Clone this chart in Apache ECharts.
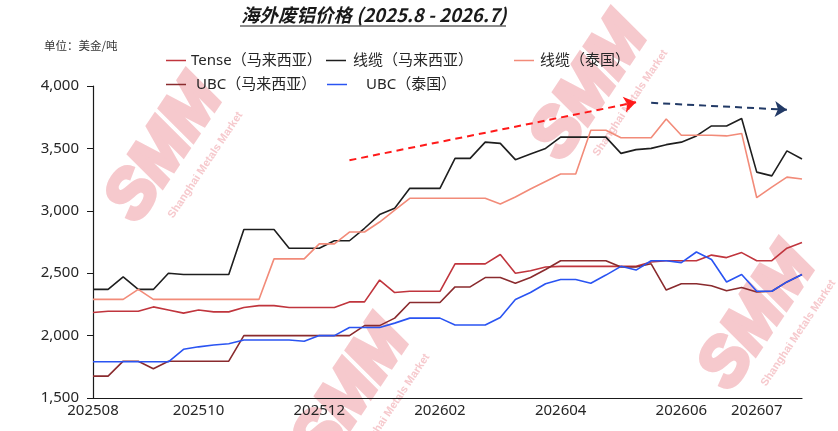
<!DOCTYPE html>
<html lang="zh">
<head>
<meta charset="UTF-8">
<title>海外废铝价格</title>
<script src="https://cdn.jsdelivr.net/npm/echarts@6/dist/echarts.min.js"></script>
<style>
    html, body { margin: 0; padding: 0; background: #fff; }
    #main { width: 838px; height: 431px; }
</style>
</head>
<body>
<div id="main"></div>
<script>
// 周度数据 2025.8 - 2026.7，单位：美金/吨
var tickIdx = [0, 7, 15, 23, 31, 39, 44];
var tickText = ['202508', '202510', '202512', '202602', '202604', '202606', '202607'];

var tenseMY = [2185, 2195, 2195, 2195, 2230, 2205, 2180, 2205, 2190, 2190,
    2225, 2240, 2240, 2225, 2225, 2225, 2225, 2270, 2270, 2445,
    2345, 2355, 2355, 2355, 2575, 2575, 2575, 2650, 2500, 2520,
    2550, 2555, 2555, 2555, 2555, 2555, 2555, 2590, 2600, 2600,
    2600, 2645, 2625, 2665, 2600, 2600, 2700, 2745];
var cableMY = [2370, 2370, 2470, 2370, 2370, 2500, 2490, 2490, 2490, 2490,
    2850, 2850, 2850, 2700, 2700, 2700, 2760, 2760, 2860, 2970,
    3020, 3180, 3180, 3180, 3420, 3420, 3550, 3540, 3410, 3455,
    3500, 3590, 3590, 3590, 3590, 3460, 3490, 3500, 3530, 3550,
    3600, 3680, 3680, 3740, 3310, 3280, 3480, 3415];
var cableTH = [2290, 2290, 2290, 2370, 2290, 2290, 2290, 2290, 2290, 2290,
    2290, 2290, 2615, 2615, 2615, 2735, 2735, 2830, 2830, 2910,
    3005, 3100, 3100, 3100, 3100, 3100, 3100, 3055, 3110, 3175,
    3235, 3295, 3295, 3645, 3645, 3585, 3585, 3585, 3735, 3605,
    3605, 3605, 3600, 3620, 3105, 3190, 3270, 3255];
var ubcMY = [1675, 1675, 1795, 1795, 1735, 1795, 1795, 1795, 1795, 1795,
    2000, 2000, 2000, 2000, 2000, 2000, 2000, 2000, 2080, 2080,
    2140, 2265, 2265, 2265, 2390, 2390, 2465, 2465, 2420, 2465,
    2530, 2600, 2600, 2600, 2600, 2550, 2550, 2575, 2365, 2415,
    2415, 2400, 2360, 2385, 2350, 2355, 2430, 2490];
var ubcTH = [1790, 1790, 1790, 1790, 1790, 1790, 1890, 1910, 1925, 1935,
    1965, 1965, 1965, 1965, 1955, 2000, 2000, 2065, 2065, 2065,
    2100, 2140, 2140, 2140, 2085, 2085, 2085, 2145, 2290, 2345,
    2415, 2450, 2450, 2420, 2485, 2555, 2525, 2600, 2600, 2585,
    2670, 2610, 2430, 2490, 2355, 2355, 2430, 2490];

// 趋势箭头 [起点周, 起点值, 终点周, 终点值]
var upArrow = [17, 3405, 36, 3870];
var downArrow = [37, 3865, 46, 3810];

var weeks = [];
for (var i = 0; i < tenseMY.length; i++) {
    weeks.push('w' + i);
}

var fontCN = '"Noto Sans", "Noto Sans CJK SC", sans-serif';

// SMM 水印
function watermark(x, y) {
    return {
        type: 'group',
        x: x,
        y: y,
        rotation: 0.98,
        z: -10,
        silent: true,
        children: [{
            type: 'text',
            style: {
                text: 'SMM',
                x: 0, y: 0,
                align: 'center',
                verticalAlign: 'middle',
                font: 'italic bold 66px "Liberation Sans", sans-serif',
                fill: '#F6C9CD',
                stroke: '#F6C9CD',
                lineWidth: 5
            }
        }, {
            type: 'text',
            style: {
                text: 'Shanghai Metals Market',
                x: 10, y: 42,
                align: 'center',
                verticalAlign: 'middle',
                font: 'bold 11px "Liberation Sans", sans-serif',
                fill: '#F6C9CD'
            }
        }]
    };
}

function legendAt(name, left, top, padLeft) {
    return {
        data: [name],
        left: left,
        top: top,
        icon: 'rect',
        itemWidth: 20,
        itemHeight: 1.5,
        selectedMode: false,
        textStyle: {
            fontSize: 15,
            color: '#262626',
            fontFamily: fontCN,
            padding: [0, 0, 0, padLeft]
        }
    };
}

function lineSeries(name, data, color) {
    return {
        name: name,
        type: 'line',
        data: data,
        symbol: 'none',
        lineStyle: { width: 1.6, color: color },
        itemStyle: { color: color }
    };
}

var myChart = echarts.init(document.getElementById('main'));

var tense = lineSeries('Tense（马来西亚）', tenseMY, '#C0353D');
tense.markLine = {
    silent: true,
    symbol: ['none', 'arrow'],
    symbolSize: 12,
    label: { show: false },
    data: [
        [{ coord: [upArrow[0], upArrow[1]], lineStyle: { color: '#FF1A1A', type: [7, 5], width: 2 } },
            { coord: [upArrow[2], upArrow[3]] }],
        [{ coord: [downArrow[0], downArrow[1]], lineStyle: { color: '#223A66', type: [7, 5], width: 2 } },
            { coord: [downArrow[2], downArrow[3]] }]
    ]
};

var option = {
    animation: false,
    title: {
        text: '海外废铝价格 (2025.8 - 2026.7)',
        left: 236,
        top: 1,
        textStyle: {
            fontSize: 18.5,
            fontWeight: 'bold',
            fontStyle: 'italic',
            color: '#1a1a1a',
            fontFamily: '"Noto Sans CJK SC", sans-serif'
        }
    },
    graphic: [
        { type: 'line', shape: { x1: 240, y1: 26, x2: 506, y2: 26 }, style: { stroke: '#1a1a1a', lineWidth: 1.2 } },
        { type: 'text', left: 44, top: 40, style: { text: '单位：美金/吨', font: '11.5px "Noto Sans CJK SC", sans-serif', fill: '#333' } },
        watermark(165, 150),
        watermark(590, 88),
        watermark(352, 392),
        watermark(758, 318)
    ],
    legend: [
        legendAt('Tense（马来西亚）', 161, 48, 0),
        legendAt('线缆（马来西亚）', 321, 48, 2),
        legendAt('线缆（泰国）', 509, 48, 1),
        legendAt('UBC（马来西亚）', 161, 72, 5),
        legendAt('UBC（泰国）', 322, 72, 14)
    ],
    grid: { left: 93, right: 36, top: 86, bottom: 33 },
    xAxis: {
        type: 'category',
        data: weeks,
        boundaryGap: false,
        axisLine: { lineStyle: { color: '#1a1a1a', width: 1.2 } },
        axisTick: { show: false },
        axisLabel: {
            interval: function (idx) { return tickIdx.indexOf(idx) >= 0; },
            formatter: function (v, idx) {
                var k = tickIdx.indexOf(idx);
                return k >= 0 ? tickText[k] : '';
            },
            fontSize: 15,
            color: '#262626',
            fontFamily: fontCN,
            margin: 5,
            hideOverlap: false
        }
    },
    yAxis: {
        type: 'value',
        min: 1500,
        max: 4000,
        interval: 500,
        axisLine: { show: true, lineStyle: { color: '#1a1a1a', width: 1.2 } },
        axisTick: { show: true, length: 6, lineStyle: { color: '#1a1a1a' } },
        splitLine: { show: false },
        axisLabel: {
            formatter: function (v) { return v.toLocaleString('en-US'); },
            fontSize: 15,
            color: '#262626',
            fontFamily: fontCN,
            margin: 14
        }
    },
    series: [
        tense,
        lineSeries('线缆（马来西亚）', cableMY, '#1E1E1E'),
        lineSeries('线缆（泰国）', cableTH, '#F28B79'),
        lineSeries('UBC（马来西亚）', ubcMY, '#8A2B2E'),
        lineSeries('UBC（泰国）', ubcTH, '#2A54F2')
    ]
};

myChart.setOption(option);
</script>
</body>
</html>
